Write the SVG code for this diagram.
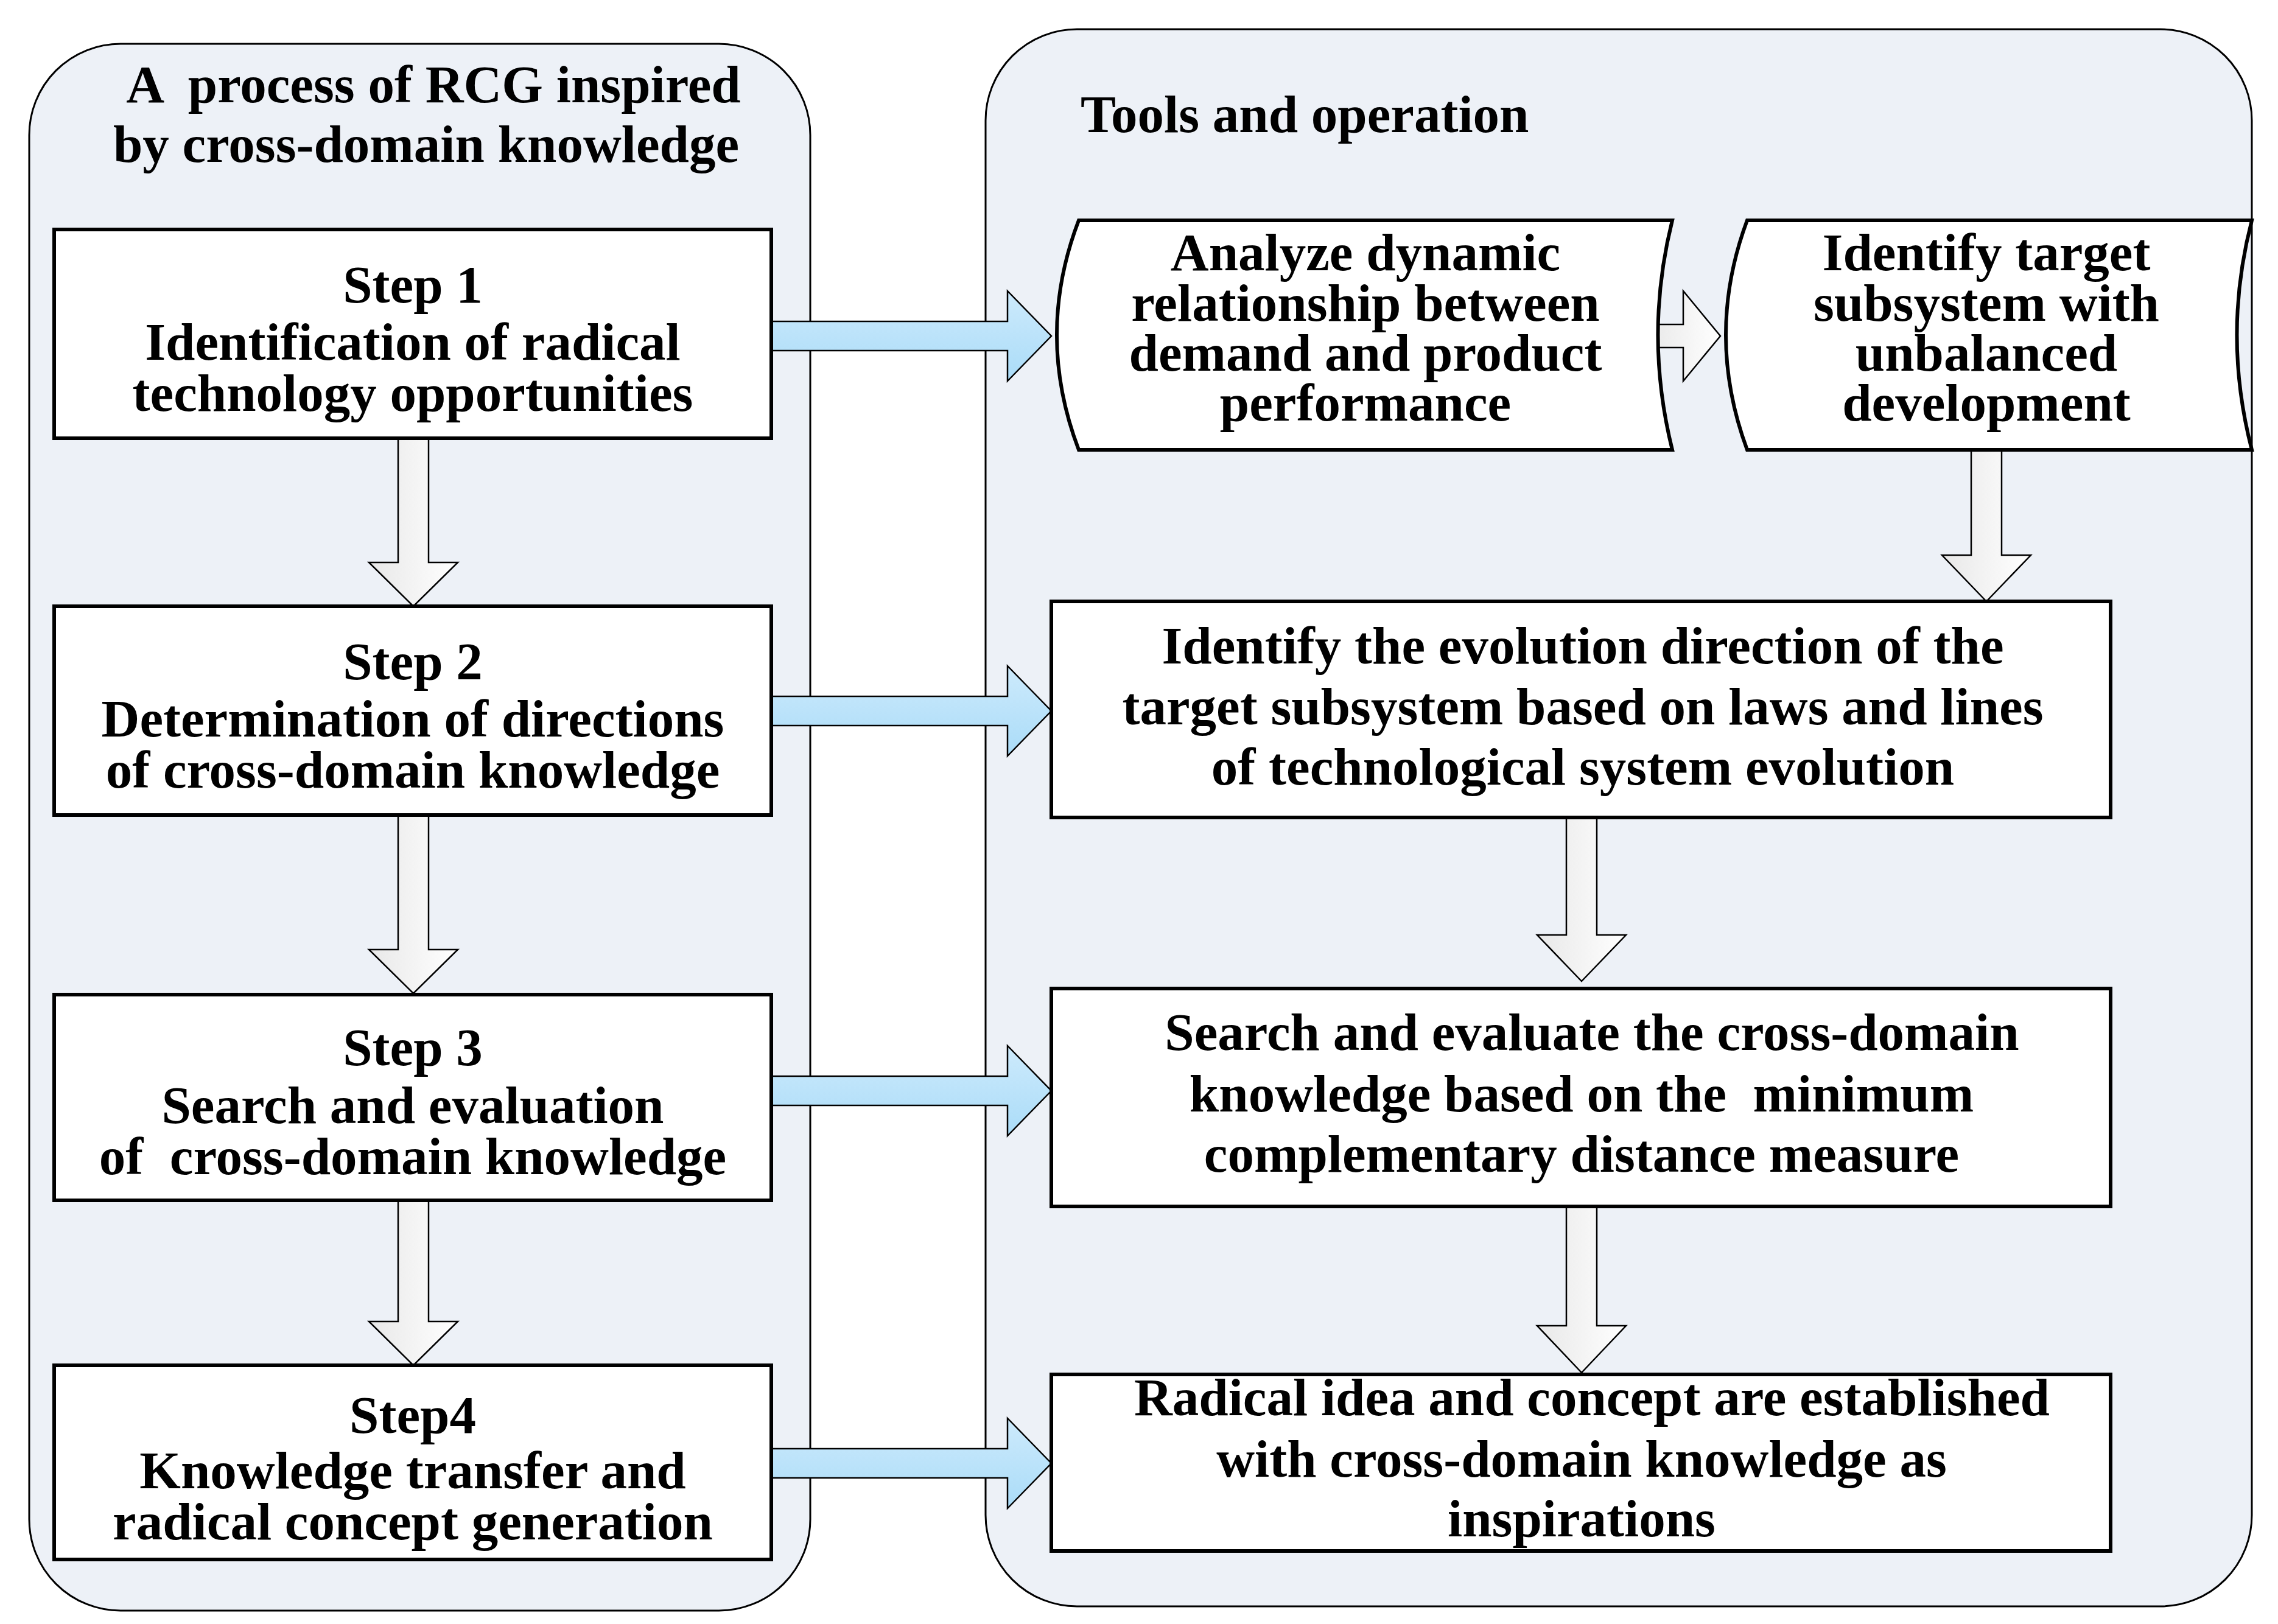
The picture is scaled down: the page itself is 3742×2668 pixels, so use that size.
<svg xmlns="http://www.w3.org/2000/svg" width="3742" height="2668" viewBox="0 0 3742 2668">
<style>
.panel{fill:#edf1f7;stroke:#000;stroke-width:3}
.box{fill:#fff;stroke:#000;stroke-width:6}
.t{font-family:"Liberation Serif",serif;font-weight:bold;font-size:87px;text-anchor:middle;fill:#000;white-space:pre}
.blue{fill:url(#gb);stroke:#000;stroke-width:2.5}
.white{fill:url(#gw);stroke:#000;stroke-width:2.5}
</style>
<defs>
<linearGradient id="gb" x1="0" y1="0" x2="0" y2="1"><stop offset="0" stop-color="#cdeafc"/><stop offset="1" stop-color="#aadcf8"/></linearGradient>
<linearGradient id="gw" x1="0" y1="0" x2="1" y2="0"><stop offset="0" stop-color="#e8e8e8"/><stop offset="1" stop-color="#ffffff"/></linearGradient>
</defs>
<rect width="3742" height="2668" fill="#fff"/>
<g id="panel-left"><rect class="panel" x="48" y="72" width="1283" height="2574" rx="150"/>
<text class="t" x="712" y="168">A  process of RCG inspired</text>
<text class="t" x="700" y="266">by cross-domain knowledge</text></g>
<g id="panel-right"><rect class="panel" x="1619" y="48" width="2080" height="2591" rx="150"/>
<text class="t" x="1775" y="217" style="text-anchor:start">Tools and operation</text></g>
<g id="connectors">
<path class="white" d="M654,720 V924 H606 L679,996 L752,924 H704 V720 Z"/>
<path class="white" d="M654,1339 V1560 H606 L679,1632 L752,1560 H704 V1339 Z"/>
<path class="white" d="M654,1972 V2171 H606 L679,2243 L752,2171 H704 V1972 Z"/>
<path class="blue" d="M1267,528 H1655 V478 L1727,552 L1655,626 V576 H1267 Z"/>
<path class="blue" d="M1267,1144 H1655 V1094 L1727,1168 L1655,1242 V1192 H1267 Z"/>
<path class="blue" d="M1267,1768 H1655 V1718 L1727,1792 L1655,1866 V1816 H1267 Z"/>
<path class="blue" d="M1267,2380 H1655 V2330 L1727,2404 L1655,2478 V2428 H1267 Z"/>
<path class="white" d="M2705,533 H2765 V478 L2826,552 L2765,626 V571 H2705 Z"/>
<path class="white" d="M3238,739 V912 H3190 L3263,988 L3336,912 H3288 V739 Z"/>
<path class="white" d="M2573,1343 V1536 H2525 L2598,1612 L2671,1536 H2623 V1343 Z"/>
<path class="white" d="M2573,1982 V2178 H2525 L2598,2255 L2671,2178 H2623 V1982 Z"/>
</g>
<g id="step1"><rect class="box" x="89" y="377" width="1178" height="343"/>
<text class="t" x="678" y="497">Step 1</text><text class="t" x="678" y="591">Identification of radical</text><text class="t" x="678" y="675">technology opportunities</text></g>
<g id="step2"><rect class="box" x="89" y="996" width="1178" height="343"/>
<text class="t" x="678" y="1116">Step 2</text><text class="t" x="678" y="1210">Determination of directions</text><text class="t" x="678" y="1294">of cross-domain knowledge</text></g>
<g id="step3"><rect class="box" x="89" y="1634" width="1178" height="338"/>
<text class="t" x="678" y="1750">Step 3</text><text class="t" x="678" y="1845">Search and evaluation</text><text class="t" x="678" y="1929">of  cross-domain knowledge</text></g>
<g id="step4"><rect class="box" x="89" y="2243" width="1178" height="319"/>
<text class="t" x="678" y="2354">Step4</text><text class="t" x="678" y="2445">Knowledge transfer and</text><text class="t" x="678" y="2529">radical concept generation</text></g>
<g id="analyze"><path class="box" d="M1772,362 H2747 Q2700,550 2747,739 H1772 Q1700,550 1772,362 Z"/>
<text class="t" x="2243" y="444">Analyze dynamic</text><text class="t" x="2243" y="527">relationship between</text><text class="t" x="2243" y="609">demand and product</text><text class="t" x="2243" y="691">performance</text></g>
<g id="identify-target"><path class="box" d="M2870,362 H3699 Q3650,550 3699,739 H2870 Q2800,550 2870,362 Z"/>
<text class="t" x="3263" y="444">Identify target</text><text class="t" x="3263" y="527">subsystem with</text><text class="t" x="3263" y="609">unbalanced</text><text class="t" x="3263" y="691">development</text></g>
<g id="evolution"><rect class="box" x="1727" y="988" width="1740" height="355"/>
<text class="t" x="2600" y="1090">Identify the evolution direction of the</text><text class="t" x="2600" y="1190">target subsystem based on laws and lines</text><text class="t" x="2600" y="1289">of technological system evolution</text></g>
<g id="search"><rect class="box" x="1727" y="1624" width="1740" height="358"/>
<text class="t" x="2615" y="1725">Search and evaluate the cross-domain</text><text class="t" x="2598" y="1826">knowledge based on the  minimum</text><text class="t" x="2598" y="1925">complementary distance measure</text></g>
<g id="radical"><rect class="box" x="1727" y="2258" width="1740" height="290"/>
<text class="t" x="2615" y="2325">Radical idea and concept are established</text><text class="t" x="2598" y="2426">with cross-domain knowledge as</text><text class="t" x="2598" y="2524">inspirations</text></g>
</svg>
